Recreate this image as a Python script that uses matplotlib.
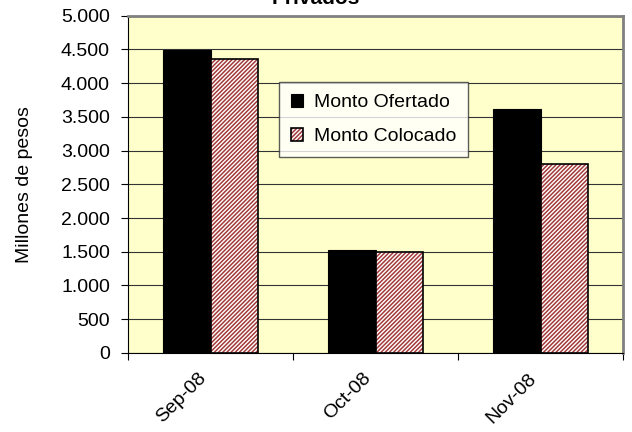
import numpy as np
import matplotlib
matplotlib.use("Agg")
import matplotlib.pyplot as plt

plt.rcParams['font.family'] = ['Liberation Sans', 'DejaVu Sans']
plt.rcParams['hatch.linewidth'] = 1.1

# data
meses = ['Sep-08', 'Oct-08', 'Nov-08']
ofertado = [4490, 1530, 3620]
colocado = [4360, 1500, 2800]
yticks = [0, 500, 1000, 1500, 2000, 2500, 3000, 3500, 4000, 4500, 5000]
ytick_labels = ['0', '500', '1.000', '1.500', '2.000', '2.500', '3.000',
                '3.500', '4.000', '4.500', '5.000']

fig = plt.figure(figsize=(6.32, 4.32), dpi=100)
ax = fig.add_axes([0.2025, 0.183, 0.7835, 0.7807])
ax.set_facecolor('#FFFFCC')

x = np.arange(len(meses))
w = 0.29

b1 = ax.bar(x - w / 2, ofertado, w, color='black', edgecolor='black',
            linewidth=0.8, zorder=3)
# hatched bars: hatch first, then the black outline on top
b2 = ax.bar(x + w / 2, colocado, w, color='white', edgecolor='#A33A3A',
            hatch='////////', linewidth=0, zorder=3)
b3 = ax.bar(x + w / 2, colocado, w, fill=False, edgecolor='black',
            linewidth=1.2, zorder=4)

ax.set_xlim(-0.5, 2.5)
ax.set_ylim(0, 5000)
ax.set_yticks(yticks)
ax.set_yticklabels(ytick_labels, fontsize=14)
ax.yaxis.grid(True, color='#333333', linewidth=0.8, zorder=0)
ax.set_axisbelow(True)

# x ticks at category boundaries, labels at centres
ax.set_xticks([-0.5, 0.5, 1.5, 2.5])
ax.set_xticklabels([])
ax.tick_params(axis='x', length=5, width=0.8, color='black')
ax.tick_params(axis='y', length=5, width=0.8, color='black', pad=8)
for i, m in enumerate(meses):
    ax.text(i - 0.08, -0.05, m, rotation=45, ha='right', va='top',
            rotation_mode='anchor', fontsize=14,
            transform=ax.get_xaxis_transform())

ax.spines['left'].set_color('black')
ax.spines['bottom'].set_color('black')
ax.spines['top'].set_color('#808080')
ax.spines['right'].set_color('#808080')
ax.spines['top'].set_linewidth(2)
ax.spines['right'].set_linewidth(2)

ax.set_ylabel('Millones de pesos', fontsize=14, labelpad=20)

leg = ax.legend([b1.patches[0], (b2.patches[0], b3.patches[0])],
                ['Monto Ofertado', 'Monto Colocado'],
                loc='upper left', bbox_to_anchor=(0.305, 0.802), fontsize=14,
                frameon=True, fancybox=False, shadow=False,
                handlelength=0.65, handleheight=0.65, handletextpad=0.55,
                borderpad=0.6, labelspacing=0.85, borderaxespad=0)
leg.get_frame().set_edgecolor('#333333')
leg.get_frame().set_linewidth(1.0)

fig.text(0.5, 1 - 4 / 432, 'Privados', ha='center', va='baseline',
         fontsize=15, fontweight='bold')

fig.savefig('out.png', dpi=100)
